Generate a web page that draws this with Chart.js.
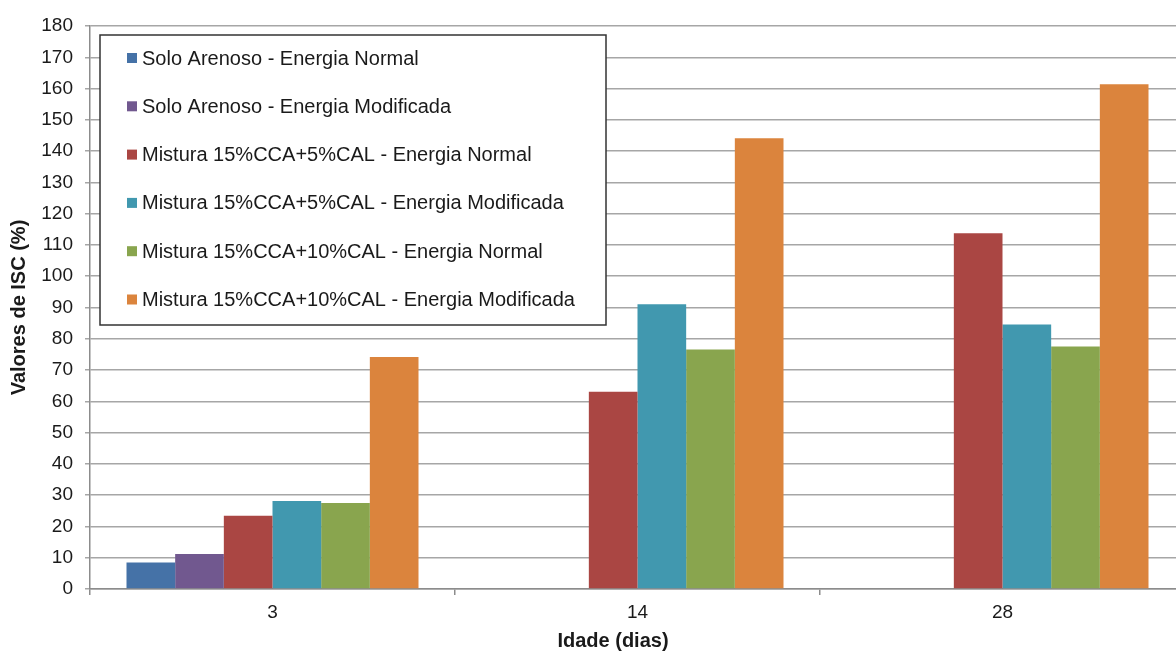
<!DOCTYPE html>
<html>
<head>
<meta charset="utf-8">
<script src="https://cdn.jsdelivr.net/npm/chart.js@4.4.1/dist/chart.umd.min.js"></script>
<style>
  html, body { margin: 0; padding: 0; background: #fff; overflow: hidden; }
  #wrap { width: 1190px; height: 652px; position: relative; }
</style>
</head>
<body>
<div id="wrap"><canvas id="c"></canvas></div>
<script>
// Idade (dias)
const categories = ['3', '14', '28'];

// ISC values (%) per series
const soloNormal      = [8.5, null, null];
const soloModificada  = [11.2, null, null];
const m5Normal        = [23.4, 63.1, 113.7];
const m5Modificada    = [28.1, 91.0, 84.6];
const m10Normal       = [27.5, 76.6, 77.5];
const m10Modificada   = [74.2, 144.1, 161.4];

const seriesLabels = [
  'Solo Arenoso - Energia Normal',
  'Solo Arenoso - Energia Modificada',
  'Mistura 15%CCA+5%CAL - Energia Normal',
  'Mistura 15%CCA+5%CAL - Energia Modificada',
  'Mistura 15%CCA+10%CAL - Energia Normal',
  'Mistura 15%CCA+10%CAL - Energia Modificada'
];
const seriesColors = ['#4572A7', '#71588F', '#AA4643', '#4198AF', '#89A54E', '#DB843D'];
const seriesData = [soloNormal, soloModificada, m5Normal, m5Modificada, m10Normal, m10Modificada];

const FONT = '"Liberation Sans", Arial, sans-serif';

// Boxed legend drawn inside the plot area, plus the x-axis title
const boxLegend = {
  id: 'boxLegend',
  afterDraw(chart) {
    const ctx = chart.ctx;
    const x0 = 100, y0 = 35, w = 506, h = 290;
    ctx.save();
    ctx.fillStyle = '#fff';
    ctx.fillRect(x0, y0, w, h);
    ctx.lineWidth = 1.5;
    ctx.strokeStyle = '#333';
    ctx.strokeRect(x0, y0, w, h);
    ctx.font = '20px ' + FONT;
    ctx.textBaseline = 'middle';
    chart.data.datasets.forEach((ds, i) => {
      const cy = 58 + i * 48.3;
      ctx.fillStyle = ds.backgroundColor;
      ctx.fillRect(127, cy - 5, 10, 10);
      ctx.fillStyle = '#1a1a1a';
      ctx.fillText(ds.label, 142, cy + 1);
    });
    ctx.font = 'bold 20px ' + FONT;
    ctx.textAlign = 'center';
    ctx.fillStyle = '#1a1a1a';
    ctx.fillText('Idade (dias)', 613, 641);
    ctx.restore();
  }
};

new Chart(document.getElementById('c'), {
  type: 'bar',
  data: {
    labels: categories,
    datasets: seriesData.map((d, i) => ({
      label: seriesLabels[i],
      data: d,
      backgroundColor: seriesColors[i],
      borderWidth: 0,
      categoryPercentage: 0.8,
      barPercentage: 1.0,
      skipNull: false
    }))
  },
  options: {
    responsive: true,
    maintainAspectRatio: false,
    animation: false,
    layout: { padding: { left: 0, right: 5, top: 26, bottom: 0 } },
    plugins: {
      legend: { display: false },
      tooltip: { enabled: false }
    },
    scales: {
      x: {
        grid: {
          offset: true,
          drawOnChartArea: false,
          drawTicks: true,
          tickLength: 6,
          color: '#8c8c8c',
          lineWidth: 1.5
        },
        border: { color: '#8c8c8c', width: 1.5 },
        ticks: { color: '#1a1a1a', font: { family: FONT, size: 19 }, padding: 6 },
        afterFit(scale) { scale.height = 63; }
      },
      y: {
        min: 0,
        max: 180,
        ticks: {
          stepSize: 10,
          color: '#1a1a1a',
          font: { family: FONT, size: 19 },
          padding: 12
        },
        grid: {
          color: '#a6a6a6',
          lineWidth: 1.5,
          tickLength: 5
        },
        border: { color: '#8c8c8c', width: 1.5 },
        title: {
          display: true,
          text: 'Valores de ISC (%)',
          color: '#1a1a1a',
          font: { family: FONT, size: 20, weight: 'bold' },
          padding: { top: 7, bottom: 0 }
        },
        afterFit(scale) { scale.width = 90; }
      }
    }
  },
  plugins: [boxLegend]
});
</script>
</body>
</html>
